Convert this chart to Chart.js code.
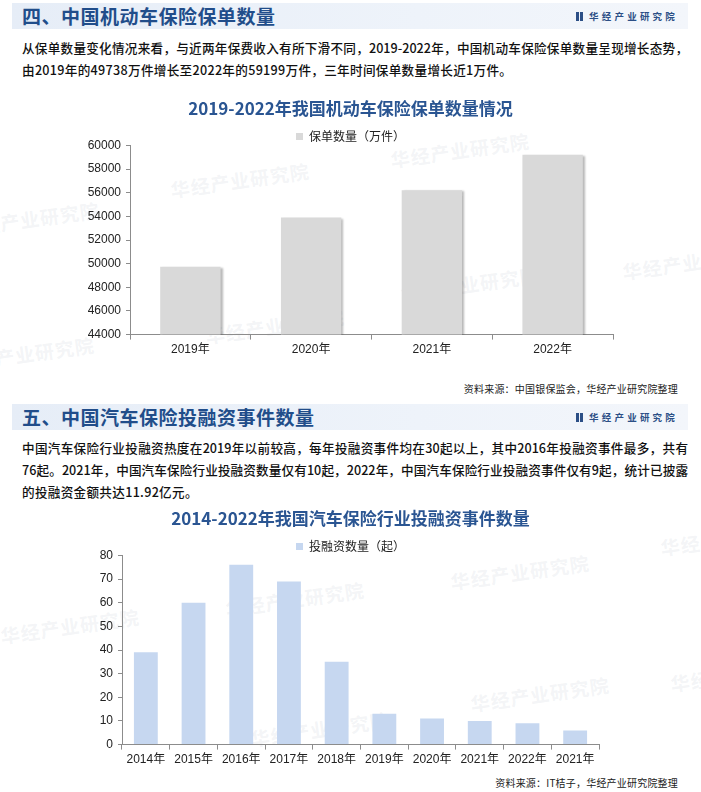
<!DOCTYPE html>
<html>
<head>
<meta charset="utf-8">
<script src="https://cdn.jsdelivr.net/npm/chart.js@4.4.0/dist/chart.umd.min.js"></script>
<style>
  html, body { margin: 0; padding: 0; background: #fff; }
  body { width: 701px; height: 792px; position: relative; overflow: hidden;
         font-family: "Noto Sans CJK SC", "Liberation Sans", sans-serif; }
  .band { position: absolute; left: 12px; width: 676px; height: 26px;
          background: linear-gradient(90deg, #e6edf7 0%, #eef3fa 60%, #f3f6fb 100%); }
  .band h2 { margin: 0; position: absolute; left: 10px; top: 0; line-height: 26px;
             font-size: 19px; font-weight: bold; color: #214d8a; letter-spacing: 0.5px; }
  .logo { position: absolute; right: 10px; top: 0; line-height: 26px; font-size: 9.5px;
          font-weight: bold; color: #2c4f86; letter-spacing: 3.2px; }
  .logo i { display: inline-block; width: 3px; height: 9px; background: #2c4f86; margin-right: 1px; vertical-align: -1px; }
  .para { position: absolute; left: 22px; width: 666px; font-size: 12.6px; color: #111; font-weight: 500; }
  .para div { height: 22px; line-height: 22px; white-space: nowrap; text-align: justify; text-align-last: justify; }
  .para div.last { text-align-last: left; letter-spacing: 0.3px; }
  .src { position: absolute; right: 23px; font-size: 10px; color: #222; letter-spacing: 0.2px; }
  .wm { position: absolute; font-size: 19px; font-weight: bold; color: rgba(185,192,205,0.18);
        transform: rotate(-8deg); white-space: nowrap; letter-spacing: 1px; }
  canvas { position: absolute; left: 0; }
</style>
</head>
<body>
<div class="wm" style="left:170px;top:166px">华经产业研究院</div>
<div class="wm" style="left:390px;top:136px">华经产业研究院</div>
<div class="wm" style="left:-40px;top:205px">华经产业研究院</div>
<div class="wm" style="left:622px;top:248px">华经产业研究院</div>
<div class="wm" style="left:205px;top:312px">华经产业研究院</div>
<div class="wm" style="left:400px;top:270px">华经产业研究院</div>
<div class="wm" style="left:-45px;top:340px">华经产业研究院</div>
<div class="wm" style="left:450px;top:558px">华经产业研究院</div>
<div class="wm" style="left:225px;top:585px">华经产业研究院</div>
<div class="wm" style="left:0px;top:612px">华经产业研究院</div>
<div class="wm" style="left:470px;top:680px">华经产业研究院</div>
<div class="wm" style="left:250px;top:715px">华经产业研究院</div>
<div class="wm" style="left:660px;top:524px">华经产业研究院</div>
<div class="wm" style="left:670px;top:660px">华经产业研究院</div>

<div class="band" style="top:3px">
  <h2>四、中国机动车保险保单数量</h2>
  <div class="logo"><i></i><i></i> 华经产业研究院</div>
</div>
<div class="para" style="top:37px">
  <div>从保单数量变化情况来看，与近两年保费收入有所下滑不同，2019-2022年，中国机动车保险保单数量呈现增长态势，</div>
  <div class="last">由2019年的49738万件增长至2022年的59199万件，三年时间保单数量增长近1万件。</div>
</div>
<canvas id="policyChart" width="701" height="272" style="top:92px;width:701px;height:272px"></canvas>
<div class="src" style="top:381px">资料来源：中国银保监会，华经产业研究院整理</div>

<div class="band" style="top:404px">
  <h2>五、中国汽车保险投融资事件数量</h2>
  <div class="logo"><i></i><i></i> 华经产业研究院</div>
</div>
<div class="para" style="top:437px">
  <div>中国汽车保险行业投融资热度在2019年以前较高，每年投融资事件均在30起以上，其中2016年投融资事件最多，共有</div>
  <div>76起。2021年，中国汽车保险行业投融资数量仅有10起，2022年，中国汽车保险行业投融资事件仅有9起，统计已披露</div>
  <div class="last">的投融资金额共达11.92亿元。</div>
</div>
<canvas id="dealChart" width="701" height="272" style="top:502px;width:701px;height:272px"></canvas>
<div class="src" style="top:775px">资料来源：IT桔子，华经产业研究院整理</div>

<script>
// --- DATA ---
const policyYears = ['2019年', '2020年', '2021年', '2022年'];
const policyCounts = [49738, 53900, 56200, 59199];
const policyTicks = [44000, 46000, 48000, 50000, 52000, 54000, 56000, 58000, 60000];

const dealYears = ['2014年', '2015年', '2016年', '2017年', '2018年', '2019年', '2020年', '2021年', '2022年', '2021年'];
const dealCounts = [39, 60, 76, 69, 35, 13, 11, 10, 9, 6];
const dealTicks = [0, 10, 20, 30, 40, 50, 60, 70, 80];

const FONT = '"Liberation Sans", "Noto Sans CJK SC", sans-serif';
const AXIS = '#8c8c8c';

// slight drop shadow like the source bars
const barShadow = {
    id: 'barShadow',
    beforeDatasetsDraw(chart, args, opts) {
        if (!opts.on) return;
        const c = chart.ctx;
        c.save();
        c.shadowColor = 'rgba(0,0,0,0.28)';
        c.shadowOffsetX = 2;
        c.shadowOffsetY = 1;
        c.shadowBlur = 2;
    },
    afterDatasetsDraw(chart, args, opts) {
        if (opts.on) chart.ctx.restore();
    }
};

// the y axis box is narrow (title must stay centred on the page), so let its
// labels use the padding on the left instead of being clipped
const yLabelRoom = {
    id: 'yLabelRoom',
    afterLayout(chart) { chart.scales.y.left = 0; }
};

// side = padding on both sides (keeps title/legend centred on the page),
// yWidth = what's left for the y axis up to the plot's left edge
function makeChart(id, title, legend, labels, values, ticks, color, side, yWidth, shadow) {
    const ctx = document.getElementById(id).getContext('2d');
    return new Chart(ctx, {
        type: 'bar',
        data: {
            labels: labels,
            datasets: [{
                label: legend,
                data: values,
                backgroundColor: color,
                borderWidth: 0,
                barPercentage: 0.5,
                categoryPercentage: 1
            }]
        },
        plugins: [barShadow, yLabelRoom],
        options: {
            responsive: false,
            animation: false,
            layout: { padding: { left: side, right: side, top: 0, bottom: 4 } },
            plugins: {
                barShadow: { on: shadow },
                tooltip: { enabled: false },
                title: {
                    display: true,
                    text: title,
                    color: '#2a5592',
                    font: { family: '"Noto Sans CJK SC", sans-serif', size: 17, weight: 'bold' },
                    padding: { top: 6, bottom: 4 }
                },
                legend: {
                    display: true,
                    maxHeight: 23,
                    labels: {
                        boxWidth: 7,
                        boxHeight: 7,
                        padding: 8,
                        color: '#222',
                        font: { family: '"Noto Sans CJK SC", sans-serif', size: 12 }
                    }
                }
            },
            scales: {
                x: {
                    grid: { display: true, drawOnChartArea: false, offset: true, tickLength: 5, color: AXIS },
                    border: { color: AXIS },
                    ticks: { color: '#222', padding: 3, font: { family: FONT, size: 12 } }
                },
                y: {
                    min: ticks[0],
                    max: ticks[ticks.length - 1],
                    afterBuildTicks: axis => { axis.ticks = ticks.map(v => ({ value: v })); },
                    afterFit: axis => { axis.width = yWidth; },
                    grid: { display: true, drawOnChartArea: false, tickLength: 4, color: AXIS },
                    border: { color: AXIS },
                    ticks: { color: '#222', padding: 5, font: { family: FONT, size: 12 },
                             callback: v => String(v) }
                }
            }
        }
    });
}

makeChart('policyChart', '2019-2022年我国机动车保险保单数量情况', '保单数量（万件）',
    policyYears, policyCounts, policyTicks, '#d9d9d9', 88, 42, true);
makeChart('dealChart', '2014-2022年我国汽车保险行业投融资事件数量', '投融资数量（起）',
    dealYears, dealCounts, dealTicks, '#c6d7f0', 102, 20, false);
</script>
</body>
</html>
